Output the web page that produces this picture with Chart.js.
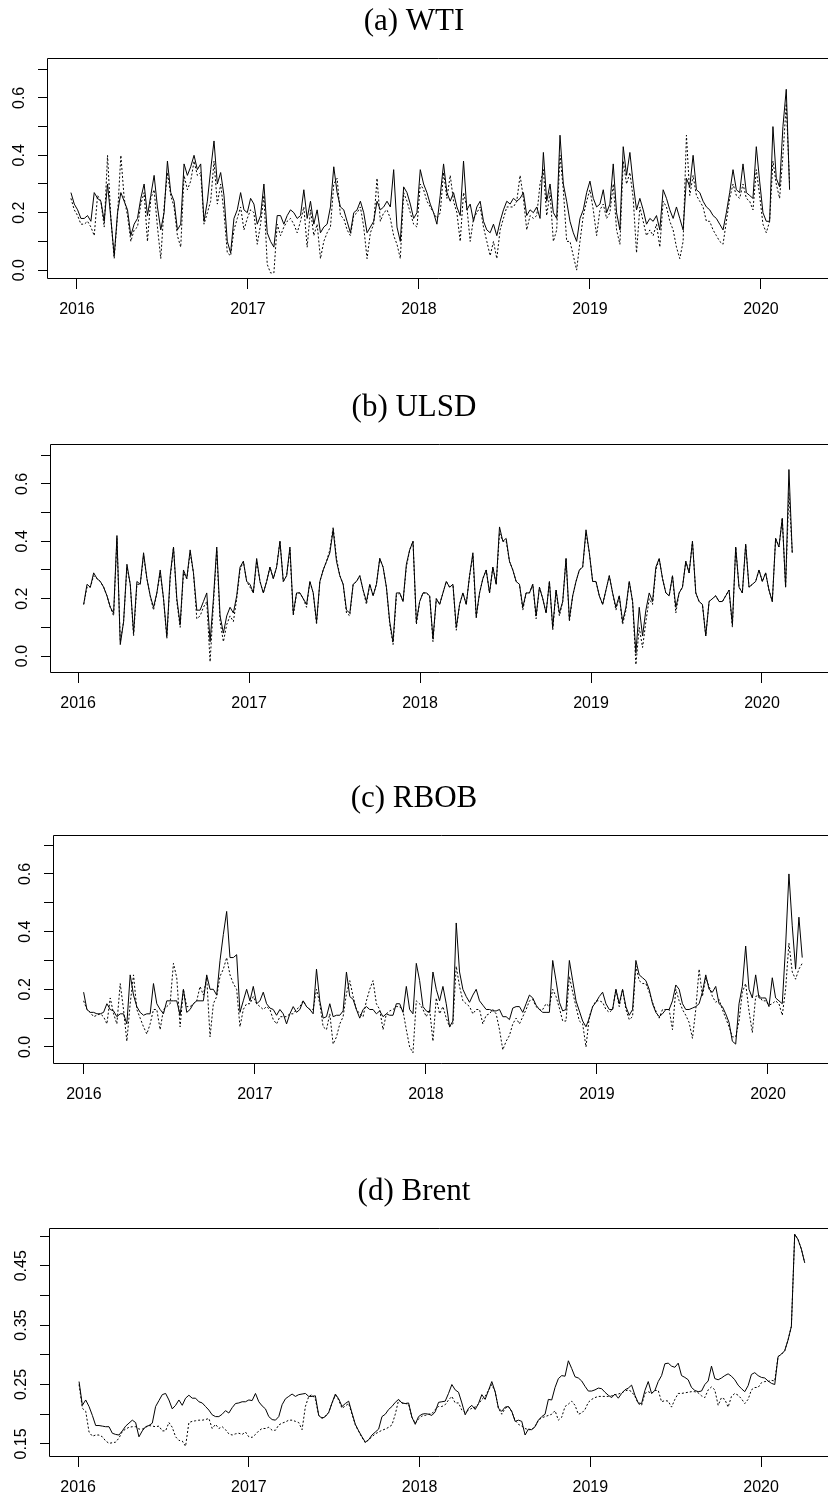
<!DOCTYPE html>
<html>
<head>
    <title>WTI, ULSD, RBOB, Brent</title>
    <meta charset="utf-8">
    <style>
        body {
            margin: 0;
            padding: 0;
            background-color: #fff;
            width: 828px;
            height: 1499px;
            overflow: hidden;
            position: relative;
        }
        .panel {
            position: absolute;
            left: 0;
            width: 828px;
        }
    </style>
    <script src="https://cdn.jsdelivr.net/npm/chart.js"></script>
</head>
<body>
    <div class="panel"><canvas id="chart-wti"></canvas></div>
    <div class="panel"><canvas id="chart-ulsd"></canvas></div>
    <div class="panel"><canvas id="chart-rbob"></canvas></div>
    <div class="panel"><canvas id="chart-brent"></canvas></div>

    <script>
        // axis ticks
        const years = [2016, 2017, 2018, 2019, 2020];
        const yTicks = [0, 0.1, 0.2, 0.3, 0.4, 0.5, 0.6, 0.7];
        const yLabels = [0, 0.2, 0.4, 0.6];
        const brentTicks = [0.15, 0.2, 0.25, 0.3, 0.35, 0.4, 0.45, 0.5];
        const brentLabels = [0.15, 0.25, 0.35, 0.45];

        // sampled roughly once a week (decimal years)
        const wtiStart = 2015.965, wtiStep = 10 / 514;
        const wtiSolid = [
            0.27,0.23,0.21,0.18,0.18,0.19,0.17,0.27,0.25,0.24,
            0.17,0.30,0.18,0.05,0.20,0.27,0.24,0.21,0.12,0.16,
            0.18,0.25,0.30,0.19,0.26,0.33,0.22,0.14,0.20,0.38,
            0.27,0.24,0.14,0.16,0.37,0.33,0.36,0.40,0.35,0.37,
            0.17,0.24,0.35,0.45,0.30,0.34,0.26,0.10,0.06,0.18,
            0.21,0.27,0.21,0.20,0.25,0.23,0.16,0.19,0.30,0.13,
            0.10,0.08,0.19,0.19,0.16,0.19,0.21,0.20,0.18,0.19,
            0.28,0.18,0.24,0.16,0.21,0.13,0.15,0.16,0.22,0.36,
            0.27,0.22,0.21,0.17,0.13,0.20,0.21,0.24,0.20,0.13,
            0.15,0.17,0.24,0.21,0.22,0.24,0.22,0.35,0.15,0.10,
            0.29,0.27,0.23,
            0.18,0.20,0.35,0.30,0.27,0.23,0.20,0.16,0.26,0.37,
            0.27,0.24,0.27,0.22,0.19,0.38,0.21,0.23,0.17,0.22,
            0.24,0.17,0.14,0.13,0.16,0.12,0.17,0.21,0.24,0.23,
            0.25,0.24,0.25,0.27,0.19,0.21,0.20,0.22,0.18,0.41,
            0.24,0.30,0.20,0.18,0.47,0.30,0.24,0.17,0.13,0.10,
            0.18,0.21,0.27,0.31,0.25,0.22,0.23,0.28,0.20,0.23,
            0.37,0.20,0.14,0.43,0.33,0.41,0.30,0.21,0.25,0.21,
            0.16,0.18,0.17,0.19,0.14,0.28,0.25,0.21,0.18,0.22,
            0.18,0.14,0.32,0.29,0.40,0.28,0.27,0.24,0.22,0.21,
            0.19,0.18,0.16,0.14,0.20,0.27,0.35,0.28,0.27,0.37,
            0.27,0.26,0.25,0.43,0.31,0.20,0.17,0.17,0.50,0.32,
            0.29,0.50,0.63,0.28
        ];
        const wtiDotted = [
            0.25,0.21,0.19,0.16,0.16,0.17,0.15,0.12,0.26,0.24,
            0.15,0.40,0.18,0.04,0.19,0.40,0.25,0.19,0.10,0.14,
            0.15,0.23,0.27,0.10,0.25,0.28,0.15,0.04,0.22,0.34,
            0.26,0.22,0.12,0.08,0.33,0.28,0.31,0.38,0.33,0.34,
            0.16,0.20,0.24,0.38,0.23,0.30,0.20,0.06,0.05,0.14,
            0.18,0.22,0.14,0.18,0.21,0.20,0.09,0.16,0.26,0.02,
            -0.01,-0.01,0.16,0.12,0.15,0.17,0.18,0.16,0.13,0.17,
            0.22,0.08,0.21,0.12,0.16,0.04,0.10,0.13,0.15,0.30,
            0.32,0.19,0.18,0.14,0.12,0.19,0.20,0.22,0.15,0.04,
            0.13,0.16,0.32,0.17,0.20,0.21,0.18,0.12,0.09,0.04,
            0.27,0.24,0.20,
            0.16,0.15,0.30,0.28,0.24,0.22,0.20,0.18,0.20,0.34,
            0.25,0.33,0.24,0.20,0.10,0.27,0.22,0.10,0.18,0.20,
            0.22,0.15,0.10,0.05,0.10,0.04,0.14,0.18,0.22,0.22,
            0.22,0.24,0.33,0.25,0.14,0.19,0.18,0.19,0.30,0.35,
            0.19,0.27,0.10,0.14,0.40,0.28,0.10,0.10,0.05,0.00,
            0.10,0.19,0.24,0.28,0.21,0.12,0.21,0.23,0.18,0.20,
            0.30,0.14,0.09,0.38,0.30,0.34,0.25,0.06,0.22,0.17,
            0.12,0.14,0.12,0.16,0.08,0.24,0.22,0.17,0.14,0.08,
            0.04,0.10,0.47,0.26,0.33,0.26,0.24,0.22,0.17,0.17,
            0.14,0.12,0.10,0.09,0.17,0.25,0.30,0.26,0.25,0.30,
            0.25,0.24,0.21,0.35,0.26,0.16,0.13,0.17,0.38,0.30,
            0.25,0.40,0.58,0.30
        ];

        const ulsdStart = 2016.033, ulsdStep = 10 / 514;
        const ulsdSolid = [
            0.18,0.25,0.24,0.29,0.27,0.26,0.24,0.21,0.17,0.15,
            0.42,0.04,0.12,0.32,0.25,0.08,0.26,0.25,0.36,0.27,
            0.21,0.17,0.22,0.30,0.20,0.07,0.28,0.38,0.20,0.11,
            0.30,0.27,0.37,0.29,0.16,0.16,0.19,0.22,0.05,0.20,
            0.38,0.14,0.08,0.14,0.17,0.15,0.21,0.31,0.33,0.26,
            0.25,0.22,0.34,0.26,0.22,0.26,0.31,0.27,0.31,0.40,
            0.26,0.28,0.38,0.15,0.22,0.22,0.20,0.18,0.26,0.22,
            0.12,0.26,0.30,0.33,0.36,0.44,0.33,0.28,0.25,0.16,
            0.15,0.25,0.26,0.28,0.23,0.19,0.25,0.21,0.25,0.34,
            0.31,0.24,0.12,0.05,0.22,0.22,0.19,0.32,0.37,0.40,
            0.12,0.19,0.22,0.22,0.21,0.06,0.20,0.18,0.22,0.26,
            0.24,0.25,0.10,0.18,0.22,0.18,0.28,0.36,0.14,0.22,
            0.27,0.30,0.22,0.31,0.25,0.45,0.40,0.41,0.33,0.30,
            0.26,0.25,0.17,0.22,0.22,0.25,0.14,0.24,0.20,0.15,
            0.26,0.10,0.23,0.15,0.19,0.34,0.13,0.21,0.26,0.30,
            0.31,0.44,0.36,0.26,0.26,0.21,0.18,0.23,0.28,0.22,
            0.17,0.21,0.12,0.17,0.26,0.19,0.01,0.17,0.07,0.16,
            0.22,0.19,0.31,0.34,0.27,0.22,0.21,0.28,0.17,0.22,
            0.24,0.33,0.29,0.40,0.22,0.19,0.18,0.07,0.19,0.20,
            0.21,0.19,0.19,0.21,0.23,0.11,0.38,0.24,0.22,0.39,
            0.24,0.25,0.26,0.30,0.26,0.29,0.23,0.19,0.41,0.38,
            0.48,0.24,0.65,0.36
        ];
        const ulsdDotted = [
            0.18,0.24,0.24,0.28,0.27,0.26,0.24,0.21,0.17,0.14,
            0.41,0.05,0.12,0.31,0.25,0.07,0.25,0.25,0.35,0.27,
            0.21,0.16,0.22,0.29,0.20,0.06,0.27,0.38,0.19,0.10,
            0.29,0.27,0.36,0.29,0.13,0.14,0.17,0.19,-0.02,0.18,
            0.37,0.12,0.05,0.11,0.14,0.12,0.20,0.30,0.33,0.26,
            0.24,0.22,0.33,0.26,0.22,0.26,0.31,0.27,0.31,0.40,
            0.26,0.28,0.37,0.14,0.22,0.22,0.20,0.17,0.26,0.22,
            0.11,0.26,0.30,0.33,0.37,0.45,0.34,0.28,0.25,0.15,
            0.14,0.25,0.26,0.28,0.23,0.18,0.25,0.21,0.25,0.34,
            0.31,0.24,0.11,0.04,0.21,0.22,0.19,0.31,0.37,0.40,
            0.11,0.19,0.22,0.22,0.21,0.05,0.20,0.18,0.22,0.26,
            0.24,0.25,0.09,0.18,0.22,0.18,0.28,0.35,0.13,0.22,
            0.27,0.30,0.22,0.31,0.25,0.43,0.40,0.40,0.33,0.30,
            0.26,0.25,0.16,0.22,0.22,0.25,0.13,0.24,0.20,0.15,
            0.26,0.09,0.23,0.14,0.19,0.34,0.12,0.21,0.26,0.30,
            0.31,0.43,0.36,0.26,0.26,0.21,0.18,0.23,0.28,0.22,
            0.16,0.21,0.11,0.16,0.26,0.19,-0.03,0.10,0.03,0.12,
            0.20,0.18,0.30,0.34,0.27,0.22,0.21,0.28,0.15,0.22,
            0.24,0.33,0.29,0.40,0.22,0.19,0.18,0.07,0.19,0.20,
            0.21,0.19,0.19,0.21,0.23,0.10,0.38,0.24,0.22,0.39,
            0.24,0.25,0.26,0.30,0.26,0.29,0.23,0.19,0.41,0.38,
            0.48,0.24,0.57,0.36
        ];

        const rbobStart = 2015.998, rbobStep = 10 / 514;
        const rbobSolid = [
            0.19,0.13,0.12,0.12,0.115,0.115,0.12,0.15,0.13,0.125,
            0.105,0.115,0.115,0.08,0.25,0.18,0.14,0.12,0.11,0.115,
            0.115,0.22,0.15,0.13,0.115,0.16,0.16,0.16,0.16,0.11,
            0.20,0.12,0.13,0.15,0.16,0.16,0.16,0.25,0.20,0.20,
            0.18,0.30,0.39,0.47,0.31,0.31,0.32,0.12,0.16,0.20,
            0.16,0.21,0.15,0.16,0.19,0.15,0.135,0.13,0.11,0.13,
            0.115,0.08,0.115,0.14,0.12,0.13,0.16,0.14,0.13,0.115,
            0.27,0.16,0.10,0.105,0.15,0.105,0.11,0.11,0.125,0.26,
            0.175,0.165,0.13,0.10,0.13,0.14,0.13,0.13,0.115,0.125,
            0.105,0.115,0.11,0.11,0.15,0.15,0.12,0.21,0.13,0.115,
            0.29,0.23,0.14,0.125,0.12,0.26,0.20,0.16,0.21,0.15,
            0.07,0.09,0.43,0.26,0.20,0.175,0.155,0.18,0.20,0.16,
            0.145,0.13,0.13,0.125,0.125,0.13,0.105,0.105,0.095,0.135,
            0.14,0.14,0.12,0.15,0.18,0.17,0.145,0.13,0.12,0.12,
            0.12,0.30,0.23,0.155,0.125,0.13,0.30,0.23,0.16,0.125,
            0.09,0.07,0.10,0.14,0.155,0.175,0.19,0.15,0.13,0.13,
            0.20,0.15,0.20,0.14,0.11,0.13,0.30,0.25,0.24,0.23,
            0.20,0.15,0.12,0.105,0.115,0.13,0.13,0.16,0.215,0.20,
            0.15,0.13,0.13,0.135,0.14,0.15,0.19,0.25,0.20,0.19,
            0.21,0.15,0.14,0.115,0.085,0.02,0.01,0.15,0.21,0.35,
            0.20,0.17,0.25,0.17,0.17,0.17,0.14,0.24,0.17,0.16,
            0.15,0.35,0.60,0.42,0.27,0.45,0.31
        ];
        const rbobDotted = [
            0.16,0.13,0.12,0.105,0.11,0.115,0.105,0.08,0.17,0.115,
            0.08,0.22,0.13,0.02,0.15,0.25,0.13,0.10,0.07,0.045,
            0.08,0.13,0.13,0.06,0.13,0.14,0.15,0.29,0.24,0.07,
            0.20,0.14,0.14,0.15,0.16,0.21,0.18,0.24,0.035,0.15,
            0.175,0.245,0.27,0.31,0.25,0.22,0.20,0.07,0.13,0.15,
            0.15,0.175,0.15,0.14,0.13,0.14,0.13,0.095,0.08,0.105,
            0.105,0.105,0.115,0.115,0.13,0.14,0.16,0.14,0.13,0.13,
            0.20,0.15,0.07,0.06,0.115,0.01,0.035,0.08,0.105,0.185,
            0.23,0.175,0.13,0.115,0.105,0.16,0.20,0.23,0.15,0.13,
            0.06,0.115,0.125,0.13,0.14,0.14,0.125,0.06,0.0,-0.02,
            0.16,0.15,0.13,0.105,0.13,0.02,0.17,0.115,0.14,0.10,
            0.07,0.08,0.28,0.21,0.16,0.15,0.14,0.115,0.13,0.13,
            0.08,0.11,0.115,0.13,0.115,0.06,-0.01,0.02,0.04,0.08,
            0.10,0.08,0.105,0.13,0.16,0.165,0.14,0.13,0.13,0.15,
            0.14,0.20,0.175,0.135,0.09,0.09,0.245,0.19,0.14,0.09,
            0.08,0.00,0.105,0.14,0.16,0.16,0.155,0.13,0.12,0.13,
            0.20,0.14,0.20,0.13,0.095,0.105,0.28,0.23,0.22,0.22,
            0.19,0.155,0.125,0.10,0.13,0.13,0.13,0.06,0.20,0.16,
            0.13,0.11,0.085,0.03,0.13,0.27,0.175,0.24,0.21,0.175,
            0.155,0.165,0.13,0.10,0.07,0.035,0.035,0.09,0.19,0.22,
            0.125,0.05,0.175,0.18,0.16,0.16,0.145,0.15,0.16,0.15,
            0.11,0.20,0.36,0.26,0.235,0.27,0.29
        ];

        const brentStart = 2016.006, brentStep = 10 / 513;
        const brentSolid = [
            0.255,0.215,0.224,0.213,0.198,0.181,0.181,0.180,0.179,0.179,
            0.168,0.166,0.165,0.172,0.180,0.185,0.19,0.186,0.162,0.172,
            0.179,0.181,0.185,0.213,0.223,0.233,0.235,0.224,0.209,0.215,
            0.224,0.215,0.227,0.232,0.227,0.227,0.221,0.219,0.213,0.207,
            0.199,0.196,0.196,0.200,0.206,0.202,0.211,0.218,0.219,0.221,
            0.221,0.224,0.223,0.235,0.221,0.214,0.209,0.196,0.191,0.19,
            0.196,0.216,0.226,0.23,0.234,0.23,0.233,0.234,0.235,0.23,
            0.23,0.231,0.198,0.193,0.196,0.203,0.219,0.234,0.226,0.213,
            0.218,0.222,0.202,0.183,0.172,0.162,0.153,0.157,0.165,0.17,
            0.175,0.196,0.2,0.208,0.213,0.22,0.225,0.219,0.218,0.219,
            0.195,
            0.183,0.196,0.2,0.201,0.2,0.198,0.204,0.22,0.221,0.222,
            0.235,0.25,0.241,0.237,0.219,0.199,0.21,0.215,0.208,0.218,
            0.233,0.225,0.24,0.255,0.238,0.21,0.205,0.212,0.213,0.205,
            0.188,0.19,0.188,0.165,0.175,0.174,0.179,0.19,0.196,0.2,
            0.225,0.224,0.245,0.26,0.265,0.264,0.29,0.277,0.263,0.261,
            0.256,0.247,0.239,0.239,0.241,0.244,0.243,0.237,0.232,0.228,
            0.234,0.227,0.235,0.241,0.244,0.249,0.232,0.219,0.218,0.24,
            0.255,0.235,0.24,0.255,0.265,0.285,0.286,0.281,0.279,0.286,
            0.265,0.262,0.258,0.245,0.24,0.238,0.239,0.25,0.256,0.281,
            0.26,0.258,0.261,0.265,0.268,0.264,0.258,0.249,0.243,0.238,
            0.248,0.267,0.27,0.265,0.262,0.261,0.256,0.252,0.25,0.297,
            0.301,0.307,0.325,0.348,0.503,0.494,0.478,0.455
        ];
        const brentDotted = [
            0.25,0.21,0.205,0.17,0.163,0.165,0.165,0.162,0.155,0.151,
            0.152,0.153,0.16,0.171,0.175,0.178,0.179,0.179,0.175,0.175,
            0.178,0.181,0.18,0.179,0.18,0.172,0.172,0.186,0.178,0.162,
            0.156,0.155,0.146,0.186,0.188,0.189,0.19,0.19,0.191,0.193,
            0.176,0.183,0.176,0.179,0.174,0.167,0.165,0.167,0.168,0.166,
            0.17,0.162,0.161,0.166,0.172,0.176,0.176,0.178,0.173,0.173,
            0.182,0.185,0.187,0.19,0.19,0.188,0.186,0.174,0.213,0.23,
            0.233,0.225,0.198,0.194,0.197,0.203,0.219,0.232,0.224,0.21,
            0.214,0.218,0.2,0.182,0.171,0.161,0.152,0.157,0.162,0.167,
            0.17,0.173,0.175,0.178,0.182,0.2,0.224,0.219,0.218,0.217,
            0.195,
            0.185,0.192,0.197,0.198,0.2,0.201,0.208,0.213,0.213,0.216,
            0.224,0.23,0.219,0.219,0.207,0.203,0.207,0.21,0.212,0.217,
            0.225,0.23,0.24,0.25,0.238,0.21,0.2,0.21,0.213,0.204,
            0.19,0.183,0.18,0.176,0.174,0.174,0.18,0.19,0.194,0.196,
            0.198,0.2,0.206,0.19,0.195,0.213,0.217,0.222,0.215,0.2,
            0.202,0.208,0.22,0.225,0.228,0.23,0.23,0.23,0.23,0.231,
            0.233,0.234,0.236,0.239,0.241,0.238,0.23,0.218,0.215,0.235,
            0.238,0.235,0.24,0.24,0.221,0.223,0.222,0.212,0.225,0.235,
            0.235,0.236,0.237,0.238,0.238,0.236,0.231,0.228,0.241,0.246,
            0.241,0.215,0.228,0.225,0.212,0.23,0.235,0.232,0.226,0.218,
            0.225,0.241,0.245,0.245,0.253,0.255,0.255,0.257,0.256,0.297,
            0.301,0.307,0.325,0.348,0.503,0.494,0.478,0.455
        ];

        const serif = '"Liberation Serif", "Times New Roman", serif';
        const sans = '"Liberation Sans", Arial, sans-serif';

        // box on three sides, the right one is off the page
        const frame = {
            id: 'frame',
            afterDraw(chart) {
                const a = chart.chartArea, ctx = chart.ctx;
                ctx.save();
                ctx.strokeStyle = '#000';
                ctx.lineWidth = 1;
                ctx.beginPath();
                ctx.moveTo(a.right + 1, a.top + 0.5);
                ctx.lineTo(a.left + 0.5, a.top + 0.5);
                ctx.lineTo(a.left + 0.5, a.bottom - 0.5);
                ctx.lineTo(a.right + 1, a.bottom - 0.5);
                ctx.stroke();
                ctx.restore();
            }
        };

        // y labels read upwards, like R's axis()
        const yLabelPlugin = {
            id: 'yLabels',
            afterDraw(chart, args, opts) {
                const scale = chart.scales.y, ctx = chart.ctx;
                ctx.save();
                ctx.font = '16px ' + sans;
                ctx.fillStyle = '#000';
                ctx.textAlign = 'center';
                ctx.textBaseline = 'middle';
                opts.values.forEach(v => {
                    ctx.save();
                    ctx.translate(chart.chartArea.left - 27, scale.getPixelForValue(v));
                    ctx.rotate(-Math.PI / 2);
                    ctx.fillText(v.toFixed(opts.digits), 0, 0);
                    ctx.restore();
                });
                ctx.restore();
            }
        };

        const panels = [
            { id: 'chart-wti', title: '(a) WTI', top: 0, box: 221, left: 47,
              xmin: 2015.825, xmax: 2020.392, ymin: -0.031, ymax: 0.739,
              ticks: yTicks, labels: yLabels, digits: 1,
              start: wtiStart, step: wtiStep, solid: wtiSolid, dotted: wtiDotted },
            { id: 'chart-ulsd', title: '(b) ULSD', top: 386, box: 229, left: 50,
              xmin: 2015.836, xmax: 2020.386, ymin: -0.059, ymax: 0.739,
              ticks: yTicks, labels: yLabels, digits: 1,
              start: ulsdStart, step: ulsdStep, solid: ulsdSolid, dotted: ulsdDotted },
            { id: 'chart-rbob', title: '(c) RBOB', top: 777, box: 229, left: 53,
              xmin: 2015.819, xmax: 2020.351, ymin: -0.059, ymax: 0.735,
              ticks: yTicks, labels: yLabels, digits: 1,
              start: rbobStart, step: rbobStep, solid: rbobSolid, dotted: rbobDotted },
            { id: 'chart-brent', title: '(d) Brent', top: 1170, box: 229, left: 49,
              xmin: 2015.830, xmax: 2020.392, ymin: 0.128, ymax: 0.5135,
              ticks: brentTicks, labels: brentLabels, digits: 2,
              start: brentStart, step: brentStep, solid: brentSolid, dotted: brentDotted }
        ];

        function makeChart(p) {
            const canvas = document.getElementById(p.id);
            canvas.width = 828;
            canvas.height = 58 + p.box + 50;
            canvas.parentNode.style.top = p.top + 'px';
            const toPoints = vals => vals.map((v, i) => ({ x: p.start + i * p.step, y: v }));

            return new Chart(canvas, {
                type: 'line',
                data: {
                    datasets: [
                        { data: toPoints(p.dotted), borderColor: '#000', borderWidth: 1, borderDash: [2, 2], pointRadius: 0, tension: 0 },
                        { data: toPoints(p.solid), borderColor: '#000', borderWidth: 1, pointRadius: 0, tension: 0 }
                    ]
                },
                options: {
                    responsive: false,
                    animation: false,
                    events: [],
                    layout: { padding: 0 },
                    plugins: {
                        legend: { display: false },
                        tooltip: { enabled: false },
                        title: {
                            display: true,
                            text: p.title,
                            color: '#000',
                            font: { family: serif, size: 31, weight: 'normal', lineHeight: 1 },
                            padding: { top: 6, bottom: 21 }
                        },
                        yLabels: { values: p.labels, digits: p.digits }
                    },
                    scales: {
                        x: {
                            type: 'linear',
                            min: p.xmin,
                            max: p.xmax,
                            afterBuildTicks: s => { s.ticks = years.map(v => ({ value: v })); },
                            afterFit: s => { s.height = 50; },
                            grid: { drawOnChartArea: false, drawTicks: true, tickLength: 10, color: '#000', lineWidth: 1 },
                            border: { display: false },
                            ticks: {
                                color: '#000',
                                font: { family: sans, size: 16 },
                                padding: 11,
                                maxRotation: 0,
                                autoSkip: false,
                                callback: v => String(v)
                            }
                        },
                        y: {
                            type: 'linear',
                            min: p.ymin,
                            max: p.ymax,
                            afterBuildTicks: s => { s.ticks = p.ticks.map(v => ({ value: v })); },
                            afterFit: s => { s.width = p.left; },
                            grid: { drawOnChartArea: false, drawTicks: true, tickLength: 9, color: '#000', lineWidth: 1 },
                            border: { display: false },
                            ticks: { display: false }
                        }
                    }
                },
                plugins: [frame, yLabelPlugin]
            });
        }

        panels.forEach(makeChart);
    </script>
</body>
</html>
